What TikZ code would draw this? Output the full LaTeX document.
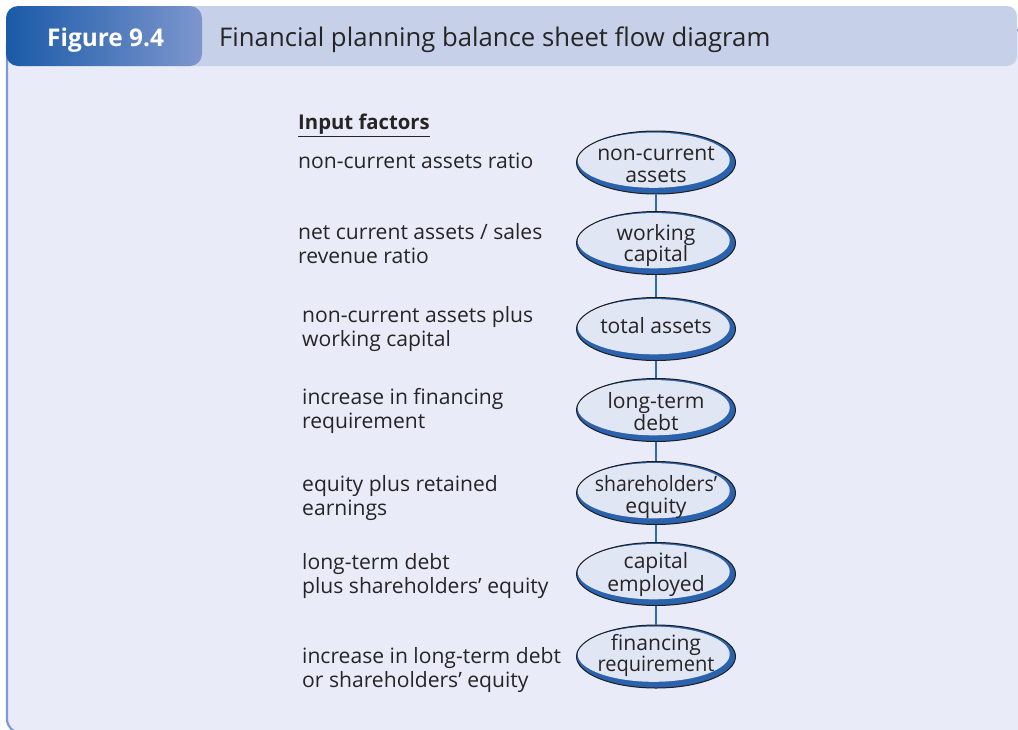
\documentclass[tikz,border=0pt]{standalone}
\usepackage{fontspec}
\setmainfont{Open Sans}
\usetikzlibrary{shapes.geometric}
\definecolor{tabdark}{HTML}{1A5AA8}
\definecolor{tablight}{HTML}{7D96CD}
\definecolor{barcol}{HTML}{C6D1E9}
\definecolor{bodycol}{HTML}{E9ECF8}
\definecolor{bordercol}{HTML}{7E9AD2}
\definecolor{ovalfill}{HTML}{E0E6F4}
\definecolor{ovalmid}{HTML}{8FA6D8}
\definecolor{ovalband}{HTML}{2A62AD}
\definecolor{ovaledge}{HTML}{1E1E1E}
\definecolor{linkcol}{HTML}{2B6BB8}
\definecolor{txt}{HTML}{262425}
\pgfdeclareradialshading{ovalshade}{\pgfpoint{0bp}{0bp}}{color(0bp)=(ovalfill); color(36bp)=(ovalfill); color(50bp)=(ovalmid)}
\newcommand\myfontbody{\fontsize{21.1}{24}\selectfont}
\newcommand\mynarrow[2]{\scalebox{#1}[1]{#2}}
\tikzset{
  lt/.style={anchor=base west, inner sep=0pt, font=\myfontbody, text=txt},
  et/.style={anchor=base, inner sep=0pt, font=\myfontbody, text=txt},
  oval/.style={ellipse, draw=ovaledge, line width=1pt, fill=ovalband,
    minimum width=159pt, minimum height=63pt, inner sep=0pt,
    path picture={\shade[shading=ovalshade]
      ([xshift=-2.3pt,yshift=2.3pt]path picture bounding box.center)
      ellipse [x radius=76pt, y radius=27.6pt];}},
  link/.style={draw=linkcol, line width=1.6pt},
}
\begin{document}
\begin{tikzpicture}[x=1pt,y=-1pt]
\useasboundingbox (0,0) rectangle (1018,729);
\clip (0,0) rectangle (1018,729);
\fill[white] (0,0) rectangle (1018,729);
% frame
\draw[bordercol, line width=2.2pt, fill=bodycol, rounded corners=14pt] (7,30) rectangle (1060,733);
\fill[barcol, rounded corners=10pt] (100,6) rectangle (1017,66);
\shade[left color=tabdark, right color=tablight, rounded corners=12pt] (6,6) rectangle (202,66);
\node[anchor=base west, inner sep=0pt, text=white, font=\fontsize{24.4}{27}\selectfont\bfseries] (fig) at (47,46) {Figure 9.4};
\node[anchor=base west, inner sep=0pt, text=txt, font=\fontsize{25.7}{29}\selectfont] (title) at (219,46.5) {Financial planning balance sheet flow diagram};
% ovals
\node[oval] (e1) at (656,162.5) {};
\node[oval] (e2) at (656,243) {};
\node[oval] (e3) at (656,329) {};
\node[oval] (e4) at (656,410) {};
\node[oval] (e5) at (656,493) {};
\node[oval] (e6) at (656,574) {};
\node[oval] (e7) at (656,656.5) {};
\draw[link] (e1) -- (e2);
\draw[link] (e2) -- (e3);
\draw[link] (e3) -- (e4);
\draw[link] (e4) -- (e5);
\draw[link] (e5) -- (e6);
\draw[link] (e6) -- (e7);
% oval texts
\node[et] (e1a) at (656,160) {non-current};
\node[et] (e1b) at (656,182.7) {assets};
\node[et] (e2a) at (656,240) {working};
\node[et] (e2b) at (656,261.7) {capital};
\node[et] (e3a) at (656,333) {total assets};
\node[et] (e4a) at (656,408.3) {long-term};
\node[et] (e4b) at (656,430) {debt};
\node[et] (e5a) at (656,491.7) {\mynarrow{0.92}{shareholders’}};
\node[et] (e5b) at (656,513.3) {equity};
\node[et] (e6a) at (656,568.3) {capital};
\node[et] (e6b) at (656,591.7) {employed};
\node[et] (e7a) at (656,650) {financing};
\node[et] (e7b) at (656,671.7) {\mynarrow{0.95}{requirement}};
% input factors
\node[lt, font=\fontsize{20.3}{24}\selectfont\bfseries] (hd) at (298,129.5) {\underline{Input factors}};
\node[lt] (l1a) at (298,168) {non-current assets ratio};
\node[lt] (l2a) at (298,239) {net current assets / sales};
\node[lt] (l2b) at (298,263) {revenue ratio};
\node[lt] (l3a) at (302,322) {non-current assets plus};
\node[lt] (l3b) at (302,346) {working capital};
\node[lt] (l4a) at (302,404) {increase in financing};
\node[lt] (l4b) at (302,428) {requirement};
\node[lt] (l5a) at (302,491) {equity plus retained};
\node[lt] (l5b) at (302,515) {earnings};
\node[lt] (l6a) at (302,569) {long-term debt};
\node[lt] (l6b) at (302,593) {plus shareholders’ equity};
\node[lt] (l7a) at (302,663) {increase in long-term debt};
\node[lt] (l7b) at (302,687) {or shareholders’ equity};
\end{tikzpicture}
\end{document}
